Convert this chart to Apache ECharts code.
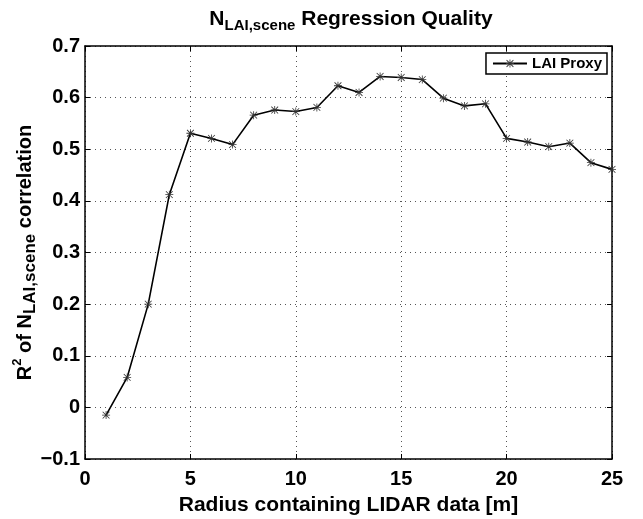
<!DOCTYPE html>
<html>
<head>
<meta charset="utf-8">
<script src="https://cdn.jsdelivr.net/npm/echarts@6/dist/echarts.min.js"></script>
<style>
  html, body { margin: 0; padding: 0; background: #fff; }
  #chart { width: 643px; height: 519px; }
</style>
</head>
<body>
<div id="chart"></div>
<script>
// radius [m] vs R^2
var radius = [1, 2, 3, 4, 5, 6, 7, 8, 9, 10, 11, 12, 13, 14, 15, 16, 17, 18, 19, 20, 21, 22, 23, 24, 25];
var laiProxy = [-0.015, 0.058, 0.200, 0.412, 0.531, 0.521, 0.509, 0.566, 0.576, 0.573, 0.581, 0.623, 0.610,
                0.641, 0.639, 0.635, 0.599, 0.584, 0.588, 0.521, 0.514, 0.505, 0.512, 0.474, 0.461];
var seriesName = 'LAI Proxy';

// asterisk marker
var star = 'path://M0 4.5H10V5.5H0Z M4.5 0H5.5V10H4.5Z M1.1 0.4L9.6 8.9L8.9 9.6L0.4 1.1Z M8.9 0.4L9.6 1.1L1.1 9.6L0.4 8.9Z';

var fnt = '"Liberation Sans", Arial, Helvetica, sans-serif';
var pts = [];
for (var i = 0; i < radius.length; i++) pts.push([radius[i], laiProxy[i]]);

var chart = echarts.init(document.getElementById('chart'));
var yFmt = function (v) {
    return String(+v.toFixed(1)).replace('-', '\u2212');
};
var lbl = { fontFamily: fnt, fontSize: 20, fontWeight: 'bold', color: '#000' };
var option = {
    backgroundColor: '#fff',
    animation: false,
    textStyle: { fontFamily: fnt },
    title: {
        text: '{n|N}{s|LAI,scene}{n| Regression Quality}',
        left: 346,
        textAlign: 'center',
        top: 0,
        textStyle: {
            rich: {
                n: { fontFamily: fnt, fontSize: 21, fontWeight: 'bold', color: '#000', verticalAlign: 'middle', lineHeight: 28 },
                s: { fontFamily: fnt, fontSize: 15, fontWeight: 'bold', color: '#000', verticalAlign: 'bottom', lineHeight: 28 }
            }
        }
    },
    legend: {
        data: [seriesName],
        right: 36,
        top: 53,
        orient: 'vertical',
        backgroundColor: '#fff',
        borderColor: '#000',
        borderWidth: 1.5,
        borderRadius: 0,
        padding: [3, 5, 3, 6],
        itemWidth: 34,
        itemHeight: 10,
        itemGap: 4,
        textStyle: { fontFamily: fnt, fontSize: 15, fontWeight: 'bold', color: '#000' }
    },
    grid: { left: 85, right: 31, top: 46, bottom: 60, containLabel: false, outerBoundsMode: 'none' },
    xAxis: [{
        type: 'value', min: 0, max: 25, interval: 5,
        name: 'Radius containing LIDAR data [m]',
        nameLocation: 'middle', nameGap: 36, nameMoveOverlap: false,
        nameTextStyle: { fontFamily: fnt, fontSize: 21, fontWeight: 'bold', color: '#000' },
        axisLine: { show: true, onZero: false, lineStyle: { color: '#000', width: 1.5 } },
        axisTick: { show: true, inside: true, length: 5, lineStyle: { color: '#000' } },
        axisLabel: Object.assign({ margin: 10 }, lbl),
        splitLine: { show: true, lineStyle: { color: '#555', type: [1, 4], width: 1 } }
    }, {
        type: 'value', min: 0, max: 25, interval: 5, position: 'top',
        axisLine: { show: true, onZero: false, lineStyle: { color: '#000', width: 1.5 } },
        axisTick: { show: true, inside: true, length: 5, lineStyle: { color: '#000' } },
        axisLabel: { show: false },
        splitLine: { show: false }
    }],
    yAxis: [{
        type: 'value', min: -0.1, max: 0.7, interval: 0.1,
        name: '{n|R}{p|2}{n| of N}{s|LAI,scene}{n| correlation}',
        nameLocation: 'middle', nameGap: 46, nameRotate: 90, nameMoveOverlap: false,
        nameTextStyle: {
            rich: {
                n: { fontFamily: fnt, fontSize: 20, fontWeight: 'bold', color: '#000', verticalAlign: 'middle', lineHeight: 28 },
                p: { fontFamily: fnt, fontSize: 13, fontWeight: 'bold', color: '#000', verticalAlign: 'top', lineHeight: 28 },
                s: { fontFamily: fnt, fontSize: 17, fontWeight: 'bold', color: '#000', verticalAlign: 'bottom', lineHeight: 28 }
            }
        },
        axisLine: { show: true, onZero: false, lineStyle: { color: '#000', width: 1.5 } },
        axisTick: { show: true, inside: true, length: 5, lineStyle: { color: '#000' } },
        axisLabel: Object.assign({ margin: 5, formatter: yFmt }, lbl),
        splitLine: { show: true, lineStyle: { color: '#555', type: [1, 4], width: 1 } }
    }, {
        type: 'value', min: -0.1, max: 0.7, interval: 0.1, position: 'right',
        axisLine: { show: true, onZero: false, lineStyle: { color: '#000', width: 1.5 } },
        axisTick: { show: true, inside: true, length: 5, lineStyle: { color: '#000' } },
        axisLabel: { show: false },
        splitLine: { show: false }
    }],
    series: [{
        name: seriesName,
        type: 'line',
        data: pts,
        symbol: star,
        symbolSize: 8,
        showAllSymbol: true,
        lineStyle: { color: '#000', width: 1.6 },
        itemStyle: { color: '#333' }
    }]
};
chart.setOption(option);
</script>
</body>
</html>
